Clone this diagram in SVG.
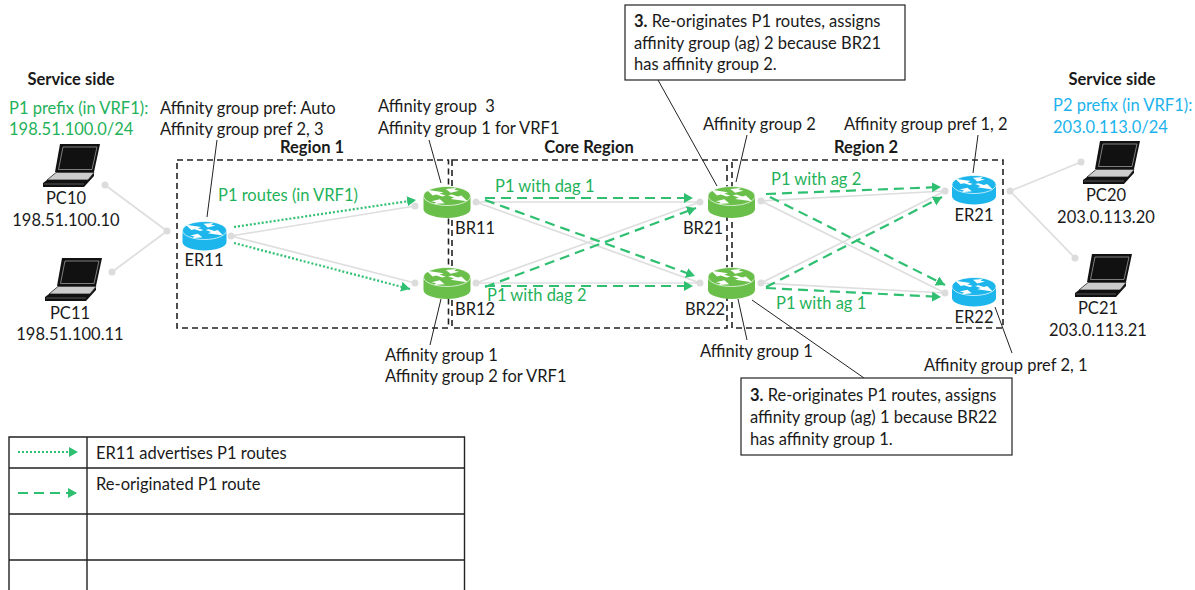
<svg xmlns="http://www.w3.org/2000/svg" width="1195" height="590" viewBox="0 0 1195 590">
<style>
text{font-family:"Lato","Open Sans","Liberation Sans",sans-serif;font-size:16.5px;fill:#1a1a1a}
.b{font-weight:700}
.m{text-anchor:middle}
.g{fill:#1fb25a}
.c{fill:#1cb3ec}
.region{fill:none;stroke:#222;stroke-width:1.6;stroke-dasharray:6 4}
.grey{stroke:#dedede;stroke-width:1.7;fill:none}
.dot{fill:#dcdcdc}
.dotted{stroke:#2fbf71;stroke-width:2.2;fill:none;stroke-dasharray:2 2;marker-end:url(#ah)}
.dashed{stroke:#2fbf71;stroke-width:2.2;fill:none;stroke-dasharray:10 6;marker-end:url(#ah)}
.lead{stroke:#222;stroke-width:1;fill:none}
.box{fill:#fff;stroke:#222;stroke-width:1.2}
.tbl{stroke:#222;stroke-width:1.4;fill:none}
</style>
<defs>
<marker id="ah" markerUnits="userSpaceOnUse" markerWidth="11" markerHeight="11" refX="9" refY="5" orient="auto"><path d="M0,0L9,5L0,10Z" fill="#2fbf71"/></marker>
<g id="arrows"><g fill="#fff">
<path d="M-17,-7L-3,-4.500L-6,-3L-1,-1L-4,0L-9,-2L-12,-1Z"/>
<path d="M17,3L3,0.500L6,-1L1,-3L4,-4L9,-2L12,-3Z" transform="translate(0,2)"/>
<path d="M0,-8L9,-9L7,-7L11,-6L4,-4L2,-6Z" transform="translate(-1,0)"/>
<path d="M0,6L-9,7L-7,5L-11,4L-4,2L-2,4Z" transform="translate(-2,1)"/>
</g></g>
<g id="rg"><path d="M-23.500,-6V7A23.500,9 0 0 0 23.500,7V-6Z" fill="#6abf4b"/><ellipse cx="0" cy="-6" rx="23.500" ry="9.500" fill="#6abf4b" stroke="#fff" stroke-width=".7"/><use href="#arrows" transform="translate(0,-5.500) scale(1.200,.95)"/></g>
<g id="rc"><path d="M-22,-5.500V6A22,8.500 0 0 0 22,6V-5.500Z" fill="#1cb5ec"/><ellipse cx="0" cy="-5.500" rx="22" ry="9" fill="#1cb5ec" stroke="#fff" stroke-width=".7"/><use href="#arrows" transform="translate(0,-5) scale(1.100,.9)"/></g>
<g id="lap">
<path d="M17,1H57L51,29H12Z" fill="#111"/>
<path d="M20,4H54L49,26.500H15.500Z" fill="none" stroke="#999" stroke-width=".8"/>
<path d="M13,29.500H51L45,37H4Z" fill="#ccc" stroke="#222" stroke-width=".8"/>
<path d="M0,40L4,37H45L51,30V33L41,44H0Z" fill="#111"/>
<path d="M1,41H41" stroke="#888" stroke-width=".6"/>
</g>
</defs>

<g id="regions">
<rect class="region" x="177" y="160" width="271.500" height="168"/>
<rect class="region" x="452" y="160" width="275" height="168"/>
<rect class="region" x="732" y="160" width="271" height="168"/>
<text class="b m" x="312" y="153">Region 1</text>
<text class="b m" x="589" y="153">Core Region</text>
<text class="b m" x="866" y="153">Region 2</text>
</g>

<g id="connectors">
<g class="grey">
<path d="M105,185L167,231M112,272L167,231"/>
<path d="M231,236L415,206M231,236L415,283"/>
<path d="M476,202H700M476,202L700,283M476,283L700,202M476,283H700"/>
<path d="M761,201L945,191M761,201L945,293M761,283L945,191M761,283L945,293"/>
<path d="M1010,191L1081,162M1010,191L1075,258"/>
</g>
<g class="dot">
<circle cx="105" cy="185" r="3.500"/><circle cx="112" cy="272" r="3.500"/><circle cx="167" cy="231" r="3.500"/>
<circle cx="231" cy="236" r="3.500"/><circle cx="415" cy="206" r="3.500"/><circle cx="415" cy="283" r="3.500"/>
<circle cx="476" cy="202" r="3.500"/><circle cx="476" cy="283" r="3.500"/><circle cx="700" cy="202" r="3.500"/><circle cx="700" cy="283" r="3.500"/>
<circle cx="761" cy="201" r="3.500"/><circle cx="761" cy="283" r="3.500"/><circle cx="945" cy="191" r="3.500"/><circle cx="945" cy="293" r="3.500"/>
<circle cx="1010" cy="191" r="3.500"/><circle cx="1081" cy="162" r="3.500"/><circle cx="1075" cy="258" r="3.500"/>
</g>
<path class="dotted" d="M234,227L416,200"/>
<path class="dotted" d="M234,243L410,289"/>
<path class="dashed" d="M485,198H693"/>
<path class="dashed" d="M485,200L695,276"/>
<path class="dashed" d="M485,287L696,208"/>
<path class="dashed" d="M485,286H693"/>
<path class="dashed" d="M766,194L941,187"/>
<path class="dashed" d="M770,197L945,285"/>
<path class="dashed" d="M766,287L942,197"/>
<path class="dashed" d="M766,288L941,297"/>
<g class="lead">
<path d="M217,140L207,217"/>
<path d="M429,140L441,183"/>
<path d="M441,299L430,345"/>
<path d="M658,80L717,186"/>
<path d="M747,135L736,182"/>
<path d="M978,135L973,173"/>
<path d="M738,299L747,340"/>
<path d="M752,300L864,378"/>
<path d="M995,307L1012,353"/>
</g>
</g>

<g id="PC10"><use href="#lap" transform="translate(43,143)"/><text class="m" x="66" y="204">PC10</text><text class="m" x="66" y="226">198.51.100.10</text></g>
<g id="PC11"><use href="#lap" transform="translate(45,257)"/><text class="m" x="70" y="319">PC11</text><text class="m" x="70" y="340">198.51.100.11</text></g>
<g id="PC20"><use href="#lap" transform="translate(1083,140)"/><text class="m" x="1106" y="201">PC20</text><text class="m" x="1106" y="223">203.0.113.20</text></g>
<g id="PC21"><use href="#lap" transform="translate(1075,253)"/><text class="m" x="1098" y="314">PC21</text><text class="m" x="1098" y="336">203.0.113.21</text></g>

<g id="ER11"><use href="#rc" transform="translate(204.500,236)"/><text class="m" x="204" y="266">ER11</text></g>
<g id="BR11"><use href="#rg" transform="translate(447,202)"/><text x="455" y="234">BR11</text></g>
<g id="BR12"><use href="#rg" transform="translate(447,283)"/><text x="455" y="315">BR12</text></g>
<g id="BR21"><use href="#rg" transform="translate(731.500,202)"/><text class="m" x="703" y="234">BR21</text></g>
<g id="BR22"><use href="#rg" transform="translate(731.500,283)"/><text class="m" x="705" y="315">BR22</text></g>
<g id="ER21"><use href="#rc" transform="translate(974,190)"/><text class="m" x="974" y="221">ER21</text></g>
<g id="ER22"><use href="#rc" transform="translate(974,292)"/><text class="m" x="974" y="323">ER22</text></g>

<g id="labels">
<text class="b m" x="71" y="85">Service side</text>
<text class="g" x="9" y="114">P1 prefix (in VRF1):</text>
<text class="g" x="9" y="135">198.51.100.0/24</text>
<text x="160" y="114">Affinity group pref: Auto</text>
<text x="160" y="135">Affinity group pref 2, 3</text>
<text x="378" y="112">Affinity group&#160; 3</text>
<text x="378" y="134">Affinity group 1 for VRF1</text>
<text x="703" y="130">Affinity group 2</text>
<text x="844" y="130">Affinity group pref 1, 2</text>
<text class="b m" x="1112" y="85">Service side</text>
<text class="c" x="1053" y="111">P2 prefix (in VRF1):</text>
<text class="c" x="1053" y="133">203.0.113.0/24</text>
<text class="g" x="218" y="201">P1 routes (in VRF1)</text>
<text class="g" x="495" y="192">P1 with dag 1</text>
<text class="g" x="487" y="301">P1 with dag 2</text>
<text class="g" x="771" y="185">P1 with ag 2</text>
<text class="g" x="776" y="309">P1 with ag 1</text>
<text x="385" y="361">Affinity group 1</text>
<text x="385" y="382">Affinity group 2 for VRF1</text>
<text x="700" y="357">Affinity group 1</text>
<text x="924" y="371">Affinity group pref 2, 1</text>
</g>

<g id="callout-BR21">
<rect class="box" x="625" y="5" width="280" height="75"/>
<text x="634" y="27"><tspan class="b">3.</tspan> Re-originates P1 routes, assigns</text>
<text x="634" y="49">affinity group (ag) 2 because BR21</text>
<text x="634" y="70">has affinity group 2.</text>
</g>
<g id="callout-BR22">
<rect class="box" x="741" y="378" width="271" height="77"/>
<text x="750" y="401"><tspan class="b">3.</tspan> Re-originates P1 routes, assigns</text>
<text x="750" y="423">affinity group (ag) 1 because BR22</text>
<text x="750" y="445">has affinity group 1.</text>
</g>

<g id="legend">
<path class="tbl" d="M9,590V437H464.500V590M87,437V590M9,468H464.500M9,514H464.500M9,560H464.500"/>
<path class="dotted" d="M18,452H78"/>
<path class="dashed" d="M18,493H77"/>
<text x="96" y="459">ER11 advertises P1 routes</text>
<text x="96" y="490">Re-originated P1 route</text>
</g>
</svg>
